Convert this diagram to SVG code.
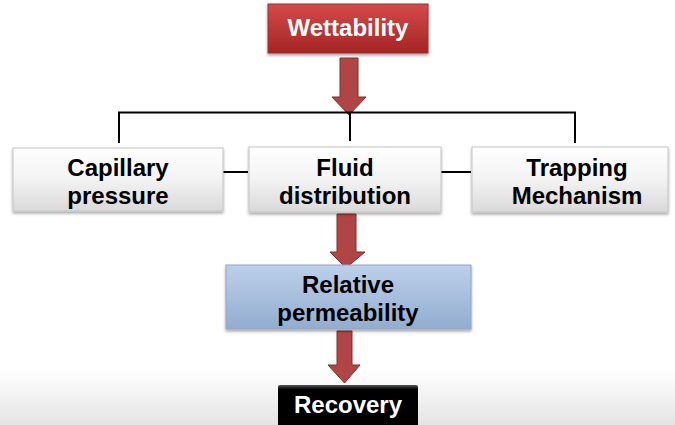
<svg xmlns="http://www.w3.org/2000/svg" width="675" height="425" viewBox="0 0 675 425">
<defs>
<linearGradient id="bg" x1="0" y1="0" x2="0" y2="1">
<stop offset="0" stop-color="#ffffff"/>
<stop offset="0.87" stop-color="#ffffff"/>
<stop offset="1" stop-color="#e4e4e4"/>
</linearGradient>
<linearGradient id="red" x1="0" y1="0" x2="0" y2="1">
<stop offset="0" stop-color="#d44a4a"/>
<stop offset="1" stop-color="#a52424"/>
</linearGradient>
<linearGradient id="gray" x1="0" y1="0" x2="0" y2="1">
<stop offset="0" stop-color="#ffffff"/>
<stop offset="0.5" stop-color="#f3f3f3"/>
<stop offset="1" stop-color="#d9d9d9"/>
</linearGradient>
<linearGradient id="blue" x1="0" y1="0" x2="0" y2="1">
<stop offset="0" stop-color="#bcd0ea"/>
<stop offset="1" stop-color="#93add0"/>
</linearGradient>
<linearGradient id="black" x1="0" y1="0" x2="0" y2="1">
<stop offset="0" stop-color="#555555"/>
<stop offset="0.1" stop-color="#000000"/>
<stop offset="1" stop-color="#000000"/>
</linearGradient>
<filter id="sh" x="-10%" y="-20%" width="120%" height="150%">
<feDropShadow dx="0" dy="2" stdDeviation="1.5" flood-color="#000" flood-opacity="0.35"/>
</filter>
</defs>
<style>
.t{font-family:"Liberation Sans",Arial,sans-serif;font-weight:bold;font-size:24px;text-anchor:middle}
.w{fill:#ffffff}
.k{fill:#000000}
.arrow{fill:#b04545;stroke:#8a2a2a;stroke-width:1}
.line{stroke:#000;stroke-width:2;fill:none}
.box{stroke:#c4c4c4;stroke-width:1}
</style>
<rect x="0" y="0" width="675" height="425" fill="url(#bg)"/>
<g id="connectors">
<path class="arrow" d="M340,58 H358 V97 H366 L349,115 L332,97 H340 Z"/>
<path class="line" d="M119,143 V112.5 H575 V143 M350,112.5 V141"/>
<path class="line" d="M223,172 H248 M441,172 H471"/>
<path class="arrow" d="M337,214 H356 V252 H365 L346,268 L330,252 H337 Z"/>
<path class="arrow" d="M337,331 H352 V365 H360 L344.5,383 L328,365 H337 Z"/>
</g>
<g id="wettability">
<rect x="268" y="4" width="160" height="49" fill="url(#red)" stroke="#a03030" stroke-width="1" filter="url(#sh)"/>
<text class="t w" x="348" y="36">Wettability</text>
</g>
<g id="capillary">
<rect class="box" x="13" y="148" width="210" height="63" fill="url(#gray)" filter="url(#sh)"/>
<text class="t k" x="118" y="176">Capillary</text>
<text class="t k" x="118" y="204">pressure</text>
</g>
<g id="fluid">
<rect class="box" x="249" y="147" width="192" height="65" fill="url(#gray)" filter="url(#sh)"/>
<text class="t k" x="345" y="176">Fluid</text>
<text class="t k" x="345" y="204">distribution</text>
</g>
<g id="trapping">
<rect class="box" x="472" y="147" width="196" height="65" fill="url(#gray)" filter="url(#sh)"/>
<text class="t k" x="577" y="176">Trapping</text>
<text class="t k" x="577" y="204">Mechanism</text>
</g>
<g id="relative">
<rect x="226" y="265" width="245" height="64" fill="url(#blue)" stroke="#8fa6c6" stroke-width="1" filter="url(#sh)"/>
<text class="t k" x="348" y="293">Relative</text>
<text class="t k" x="348" y="321">permeability</text>
</g>
<g id="recovery">
<rect x="278" y="385" width="140" height="45" rx="2" fill="url(#black)"/>
<text class="t w" x="348" y="413">Recovery</text>
</g>
</svg>
